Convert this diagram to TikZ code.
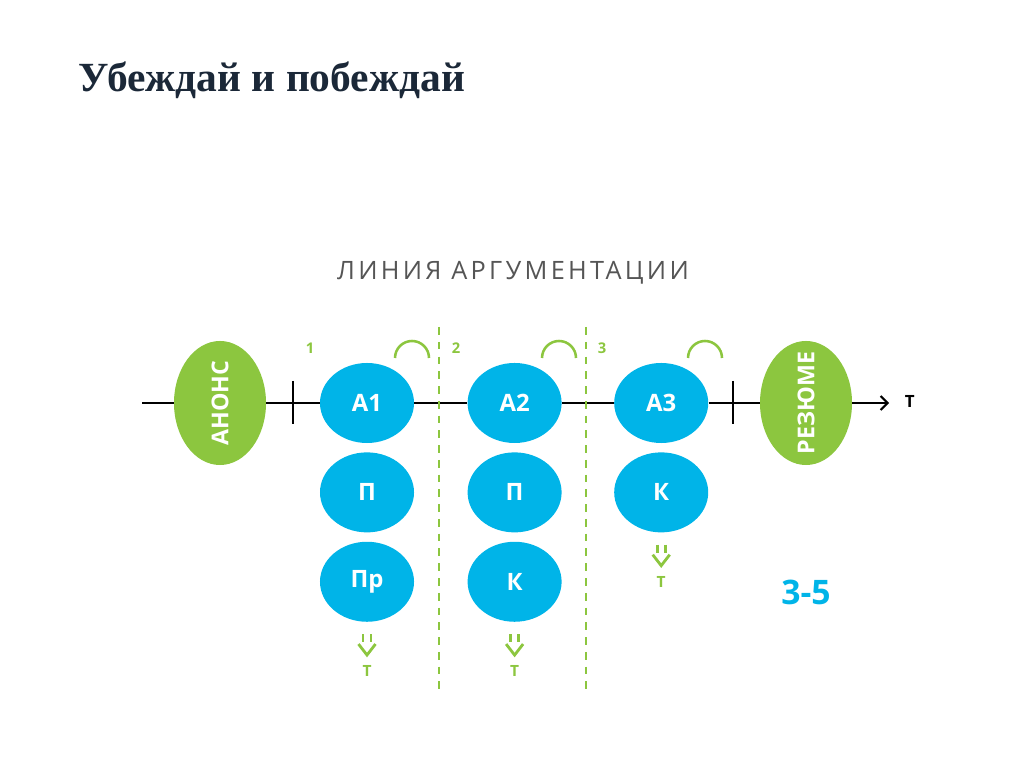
\documentclass[tikz,border=0pt]{standalone}
\usepackage{fontspec}
\setmainfont{Liberation Serif}
\newfontfamily\diagfont{Open Sans}
\usetikzlibrary{arrows.meta,positioning,shapes.geometric,calc}
\definecolor{argblue}{HTML}{00B4E8}
\definecolor{leafgreen}{HTML}{8CC63F}
\definecolor{titlenavy}{HTML}{1B2838}
\definecolor{subgray}{HTML}{555555}

\begin{document}
\begin{tikzpicture}[x=0.025cm,y=0.025cm,font=\diagfont,node distance=0.22cm,
  argnode/.style={ellipse,fill=argblue,text=white,inner sep=0pt,minimum width=2.35cm,minimum height=2.0cm,font=\diagfont\bfseries\fontsize{17}{17}\selectfont},
  bookend/.style={ellipse,fill=leafgreen,text=white,inner sep=0pt,minimum width=2.3cm,minimum height=3.1cm,font=\diagfont\bfseries\fontsize{16.5}{16.5}\selectfont},
  timeline/.style={line width=1.4pt,black},
  divider/.style={leafgreen,line width=1.8pt,dash pattern=on 5.5pt off 5pt},
  stagenum/.style={text=leafgreen,font=\diagfont\bfseries\fontsize{10.5}{10.5}\selectfont},
  linkarc/.style={leafgreen,line width=1.8pt},
  downmark/.style={leafgreen,line width=2pt},
  tmark/.style={text=leafgreen,font=\diagfont\bfseries\fontsize{11}{11}\selectfont}]
\useasboundingbox (0,0) rectangle (1024,767);
\node[anchor=base west,inner sep=0pt,text=titlenavy,font=\rmfamily\bfseries\fontsize{29.5}{29.5}\selectfont] (title) at (78,675) {Убеждай и побеждай};
\node[text=subgray,font=\diagfont\addfontfeatures{LetterSpace=13}\fontsize{18}{18}\selectfont] (subtitle) at (513,494) {ЛИНИЯ АРГУМЕНТАЦИИ};
\node[bookend] (anons) at (220,364) {\rotatebox{90}{\makebox[0pt][c]{АНОНС}}};
\node[bookend] (rezume) at (806,364) {\rotatebox{90}{\makebox[0pt][c]{РЕЗЮМЕ}}};
\node[argnode] (a1) at (367,364) {А1};
\node[argnode,below=of a1] (p1) {П};
\node[argnode,below=of p1] (pr1) {Пр};
\node[argnode,right=1.325cm of a1] (a2) {А2};
\node[argnode,below=of a2] (p2) {П};
\node[argnode,below=of p2] (k2) {К};
\node[argnode,right=1.3cm of a2] (a3) {А3};
\node[argnode,below=of a3] (k3) {К};
\coordinate (tstart) at (142,364);
\coordinate (tend) at (889,364);
\node[anchor=west,font=\diagfont\bfseries\fontsize{12}{12}\selectfont] (tlabel) at (900,366) {Т};
\draw[timeline] (tstart) -- (anons);
\draw[timeline] (anons) -- (a1);
\draw[timeline] (a1) -- (a2);
\draw[timeline] (a2) -- (a3);
\draw[timeline] (a3) -- (rezume);
\draw[timeline,-{Straight Barb[length=5pt,width=10pt]}] (rezume) -- (tend);
\draw[timeline] (293,386) -- (293,343);
\draw[timeline] (733,386) -- (733,343);
\draw[divider] (439,440) -- (439,72);
\draw[divider] (586,440) -- (586,72);
\node[stagenum] (n1) at (310,419) {1};
\node[stagenum] (n2) at (456,419) {2};
\node[stagenum] (n3) at (602,419) {3};
\foreach \x in {412,559,705}
  \draw[linkarc] (\x-17,409) arc[start angle=180,end angle=0,radius=17];
\foreach \n/\t in {pr1/t1,k2/t2,k3/t3}{
  \draw[downmark] ($(\n.south)+(-4,-12)$) -- ++(0,-8) ($(\n.south)+(4,-12)$) -- ++(0,-8);
  \draw[downmark] ($(\n.south)+(-8.5,-22)$) -- ++(8.5,-11) -- ++(8.5,11);
  \node[tmark] (\t) at ($(\n.south)+(0,-49)$) {Т};
}
\node[text=argblue,font=\diagfont\bfseries\fontsize{24}{24}\selectfont] (range) at (806,175) {3-5};
\end{tikzpicture}
\end{document}
